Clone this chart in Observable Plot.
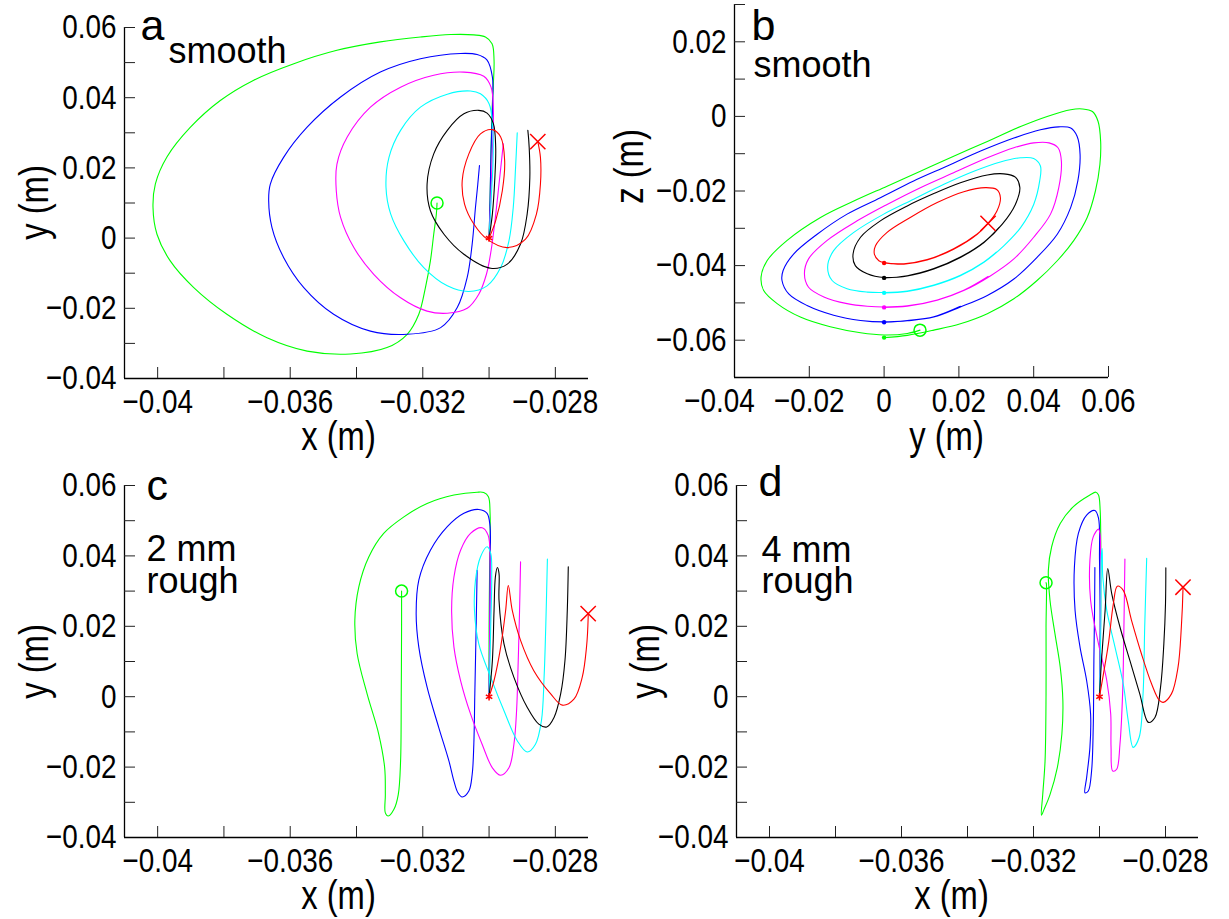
<!DOCTYPE html>
<html><head><meta charset="utf-8">
<script src="https://cdn.jsdelivr.net/npm/d3@7"></script>
<script src="https://cdn.jsdelivr.net/npm/@observablehq/plot@0.6"></script>
<style>
html,body{margin:0;padding:0;background:#fff;}
#fig{position:relative;width:1229px;height:919px;background:#fff;overflow:hidden;}
#fig svg{position:absolute;}
</style></head><body><div id="fig"></div>
<script>
// ---------- Panel a: smooth, x–y plane (m) ----------
const aGreen = [[-0.03000,0],[-0.02997,0.0107],[-0.02994,0.0250],[-0.02991,0.0364],[-0.02987,0.0440],[-0.02985,0.0507],[-0.02991,0.0554],[-0.03011,0.0573],[-0.03046,0.0579],[-0.03116,0.0580],[-0.03207,0.0573],[-0.03328,0.0559],[-0.03459,0.0535],[-0.03589,0.0497],[-0.03710,0.0450],[-0.03811,0.0392],[-0.03901,0.0316],[-0.03972,0.0231],[-0.04007,0.0154],[-0.04014,0.0088],[-0.04002,0.0011],[-0.03962,-0.0065],[-0.03891,-0.0141],[-0.03791,-0.0217],[-0.03670,-0.0284],[-0.03549,-0.0322],[-0.03418,-0.0330],[-0.03308,-0.0312],[-0.03247,-0.0274],[-0.03212,-0.0217],[-0.03192,-0.0141],[-0.03177,-0.0065],[-0.03167,0.0011],[-0.03159,0.0069],[-0.03157,0.0100]];
const aBlue = [[-0.03000,0],[-0.02997,0.0107],[-0.02994,0.0250],[-0.02989,0.0392],[-0.02990,0.0459],[-0.03006,0.0507],[-0.03036,0.0523],[-0.03086,0.0526],[-0.03207,0.0511],[-0.03328,0.0473],[-0.03448,0.0402],[-0.03549,0.0316],[-0.03620,0.0230],[-0.03660,0.0154],[-0.03665,0.0107],[-0.03655,0.0030],[-0.03620,-0.0055],[-0.03559,-0.0141],[-0.03469,-0.0217],[-0.03358,-0.0265],[-0.03247,-0.0274],[-0.03146,-0.0255],[-0.03096,-0.0198],[-0.03066,-0.0112],[-0.03051,-0.0017],[-0.03041,0.0088],[-0.03034,0.0154],[-0.03029,0.0207]];
const aMagenta = [[-0.03000,0],[-0.02995,0.0107],[-0.02990,0.0250],[-0.02987,0.0364],[-0.02994,0.0430],[-0.03016,0.0461],[-0.03076,0.0473],[-0.03167,0.0464],[-0.03267,0.0430],[-0.03358,0.0373],[-0.03428,0.0288],[-0.03459,0.0211],[-0.03461,0.0135],[-0.03448,0.0059],[-0.03408,-0.0027],[-0.03348,-0.0103],[-0.03267,-0.0170],[-0.03187,-0.0208],[-0.03126,-0.0214],[-0.03066,-0.0200],[-0.03031,-0.0160],[-0.03008,-0.0103],[-0.02994,-0.0036],[-0.02981,0.0059],[-0.02970,0.0154],[-0.02957,0.0269]];
const aCyan = [[-0.03000,0],[-0.02994,0.0107],[-0.02988,0.0221],[-0.02989,0.0316],[-0.03000,0.0383],[-0.03026,0.0411],[-0.03056,0.0419],[-0.03126,0.0410],[-0.03207,0.0373],[-0.03267,0.0307],[-0.03302,0.0230],[-0.03311,0.0145],[-0.03297,0.0069],[-0.03257,-0.0008],[-0.03197,-0.0084],[-0.03126,-0.0136],[-0.03061,-0.0152],[-0.03006,-0.0136],[-0.02965,-0.0084],[-0.02940,-0.0008],[-0.02927,0.0088],[-0.02920,0.0202],[-0.02915,0.0300]];
const aBlack = [[-0.03000,0],[-0.02990,0.0069],[-0.02983,0.0164],[-0.02980,0.0259],[-0.02987,0.0326],[-0.03006,0.0356],[-0.03031,0.0364],[-0.03076,0.0354],[-0.03126,0.0307],[-0.03167,0.0240],[-0.03187,0.0154],[-0.03177,0.0078],[-0.03136,0.0011],[-0.03076,-0.0046],[-0.02995,-0.0086],[-0.02945,-0.0074],[-0.02905,-0.0017],[-0.02885,0.0069],[-0.02877,0.0173],[-0.02879,0.0259],[-0.02883,0.0307]];
const aRed = [[-0.03000,0],[-0.02980,0.0050],[-0.02960,0.0135],[-0.02953,0.0221],[-0.02965,0.0288],[-0.02990,0.0309],[-0.03026,0.0297],[-0.03061,0.0240],[-0.03081,0.0164],[-0.03074,0.0097],[-0.03046,0.0040],[-0.03006,-0.0003],[-0.02945,-0.0027],[-0.02890,-0.0003],[-0.02857,0.0069],[-0.02845,0.0154],[-0.02845,0.0230],[-0.02853,0.0275]];
const aStart = [[-0.03000,0]];
const aCross = [[-0.02853,0.0275]];
const aCircle = [[-0.03157,0.0100]];

// ---------- Panel b: smooth, y–z plane (m) ----------
const bGreen = [[0,-0.0593],[0.0062,-0.0587],[0.0133,-0.0573],[0.0204,-0.0556],[0.0276,-0.0529],[0.0347,-0.0489],[0.0409,-0.0440],[0.0463,-0.0387],[0.0507,-0.0333],[0.0543,-0.0271],[0.0565,-0.0200],[0.0577,-0.0129],[0.0579,-0.0067],[0.0572,-0.0013],[0.0557,0.0013],[0.0530,0.0020],[0.0499,0.0018],[0.0436,0],[0.0365,-0.0027],[0.0276,-0.0067],[0.0186,-0.0107],[0.0097,-0.0147],[0.0008,-0.0187],[-0.0081,-0.0227],[-0.0170,-0.0271],[-0.0260,-0.0333],[-0.0313,-0.0387],[-0.0329,-0.0431],[-0.0322,-0.0467],[-0.0286,-0.0502],[-0.0224,-0.0538],[-0.0144,-0.0564],[-0.0063,-0.0580],[0,-0.0586],[0.0062,-0.0582],[0.0096,-0.0573]];
const bBlue = [[0,-0.0552],[0.0062,-0.0548],[0.0133,-0.0538],[0.0204,-0.0511],[0.0276,-0.0480],[0.0347,-0.0436],[0.0409,-0.0378],[0.0463,-0.0316],[0.0499,-0.0244],[0.0518,-0.0173],[0.0524,-0.0102],[0.0516,-0.0053],[0.0499,-0.0031],[0.0467,-0.0028],[0.0418,-0.0036],[0.0347,-0.0058],[0.0258,-0.0093],[0.0169,-0.0133],[0.0079,-0.0173],[-0.0010,-0.0218],[-0.0099,-0.0262],[-0.0179,-0.0316],[-0.0242,-0.0369],[-0.0270,-0.0413],[-0.0273,-0.0440],[-0.0255,-0.0476],[-0.0206,-0.0507],[-0.0135,-0.0533],[-0.0063,-0.0547],[0,-0.0551],[0.0062,-0.0547],[0.0133,-0.0537],[0.0204,-0.0509]];
const bMagenta = [[0,-0.0512],[0.0062,-0.0509],[0.0142,-0.0493],[0.0213,-0.0467],[0.0285,-0.0427],[0.0347,-0.0382],[0.0400,-0.0324],[0.0445,-0.0262],[0.0467,-0.0191],[0.0474,-0.0120],[0.0465,-0.0084],[0.0441,-0.0071],[0.0400,-0.0071],[0.0347,-0.0084],[0.0276,-0.0111],[0.0186,-0.0151],[0.0097,-0.0191],[0.0008,-0.0236],[-0.0072,-0.0280],[-0.0153,-0.0333],[-0.0202,-0.0382],[-0.0213,-0.0422],[-0.0202,-0.0458],[-0.0161,-0.0484],[-0.0099,-0.0502],[-0.0045,-0.0509],[0,-0.0511],[0.0062,-0.0508],[0.0142,-0.0492],[0.0213,-0.0466],[0.0278,-0.0429]];
const bCyan = [[0,-0.0473],[0.0062,-0.0469],[0.0133,-0.0453],[0.0204,-0.0427],[0.0267,-0.0391],[0.0320,-0.0347],[0.0365,-0.0298],[0.0400,-0.0236],[0.0416,-0.0173],[0.0418,-0.0133],[0.0400,-0.0113],[0.0365,-0.0111],[0.0311,-0.0122],[0.0240,-0.0147],[0.0160,-0.0182],[0.0079,-0.0222],[-0.0001,-0.0262],[-0.0081,-0.0311],[-0.0135,-0.0360],[-0.0151,-0.0404],[-0.0139,-0.0440],[-0.0099,-0.0462],[-0.0045,-0.0471],[0,-0.0472],[0.0062,-0.0468],[0.0133,-0.0452],[0.0204,-0.0426],[0.0267,-0.0390],[0.0300,-0.0364]];
const bBlack = [[0,-0.0433],[0.0062,-0.0428],[0.0133,-0.0409],[0.0204,-0.0378],[0.0267,-0.0338],[0.0316,-0.0289],[0.0351,-0.0236],[0.0363,-0.0191],[0.0351,-0.0163],[0.0320,-0.0154],[0.0276,-0.0157],[0.0204,-0.0178],[0.0133,-0.0207],[0.0062,-0.0240],[-0.0010,-0.0280],[-0.0063,-0.0324],[-0.0083,-0.0369],[-0.0077,-0.0400],[-0.0045,-0.0422],[0,-0.0432],[0.0062,-0.0427],[0.0133,-0.0408],[0.0204,-0.0377],[0.0267,-0.0337],[0.0307,-0.0298]];
const bRed = [[0,-0.0393],[0.0053,-0.0396],[0.0115,-0.0385],[0.0186,-0.0356],[0.0249,-0.0316],[0.0278,-0.0287],[0.0302,-0.0253],[0.0311,-0.0218],[0.0301,-0.0196],[0.0271,-0.0191],[0.0213,-0.0202],[0.0142,-0.0231],[0.0070,-0.0271],[0.0008,-0.0311],[-0.0023,-0.0347],[-0.0026,-0.0369],[-0.0014,-0.0387],[0,-0.0392],[0.0053,-0.0395],[0.0115,-0.0384],[0.0186,-0.0355],[0.0249,-0.0315],[0.0278,-0.0287]];
const bCross = [[0.0278,-0.0287]];
const bCircle = [[0.0096,-0.0573]];

// ---------- Panel c: 2 mm rough, x–y plane (m) ----------
const cGreen = [[-0.03000,0],[-0.03000,0.0198],[-0.02998,0.0388],[-0.02997,0.0521],[-0.03002,0.0568],[-0.03016,0.0580],[-0.03036,0.0581],[-0.03106,0.0573],[-0.03187,0.0549],[-0.03257,0.0511],[-0.03318,0.0464],[-0.03363,0.0397],[-0.03393,0.0312],[-0.03405,0.0217],[-0.03398,0.0122],[-0.03368,0.0008],[-0.03333,-0.0106],[-0.03315,-0.0202],[-0.03313,-0.0278],[-0.03313,-0.0330],[-0.03304,-0.0339],[-0.03287,-0.0320],[-0.03274,-0.0278],[-0.03267,-0.0183],[-0.03265,0.0008],[-0.03264,0.0198],[-0.03264,0.0300]];
const cBlue = [[-0.03000,0],[-0.02998,0.0198],[-0.02997,0.0388],[-0.02997,0.0483],[-0.03006,0.0521],[-0.03031,0.0532],[-0.03076,0.0521],[-0.03126,0.0483],[-0.03177,0.0416],[-0.03212,0.0331],[-0.03220,0.0236],[-0.03212,0.0141],[-0.03187,0.0027],[-0.03152,-0.0087],[-0.03121,-0.0183],[-0.03106,-0.0240],[-0.03094,-0.0273],[-0.03081,-0.0285],[-0.03061,-0.0268],[-0.03051,-0.0221],[-0.03046,-0.0135],[-0.03043,0.0008],[-0.03039,0.0198],[-0.03036,0.0359]];
const cMagenta = [[-0.03000,0],[-0.02998,0.0198],[-0.02997,0.0388],[-0.03003,0.0459],[-0.03021,0.0480],[-0.03056,0.0464],[-0.03086,0.0416],[-0.03106,0.0340],[-0.03113,0.0245],[-0.03106,0.0141],[-0.03086,0.0046],[-0.03056,-0.0049],[-0.03021,-0.0135],[-0.02990,-0.0202],[-0.02965,-0.0223],[-0.02940,-0.0202],[-0.02925,-0.0135],[-0.02917,-0.0040],[-0.02912,0.0103],[-0.02908,0.0245],[-0.02905,0.0383]];
const cCyan = [[-0.03000,0],[-0.02995,0.0198],[-0.02992,0.0340],[-0.02995,0.0407],[-0.03006,0.0426],[-0.03026,0.0397],[-0.03041,0.0331],[-0.03044,0.0245],[-0.03031,0.0150],[-0.02995,0.0055],[-0.02955,-0.0040],[-0.02915,-0.0125],[-0.02885,-0.0157],[-0.02860,-0.0135],[-0.02842,-0.0068],[-0.02834,0.0055],[-0.02829,0.0198],[-0.02824,0.0391]];
const cBlack = [[-0.03000,0],[-0.02990,0.0103],[-0.02985,0.0245],[-0.02981,0.0340],[-0.02975,0.0367],[-0.02970,0.0350],[-0.02970,0.0274],[-0.02955,0.0150],[-0.02925,0.0055],[-0.02885,-0.0030],[-0.02850,-0.0078],[-0.02826,-0.0086],[-0.02804,-0.0059],[-0.02784,0.0008],[-0.02771,0.0103],[-0.02764,0.0245],[-0.02761,0.0369]];
const cRed = [[-0.03000,0],[-0.02985,0.0046],[-0.02965,0.0141],[-0.02950,0.0245],[-0.02942,0.0316],[-0.02930,0.0245],[-0.02905,0.0160],[-0.02865,0.0074],[-0.02814,0.0008],[-0.02779,-0.0024],[-0.02744,-0.0007],[-0.02719,0.0055],[-0.02706,0.0141],[-0.02701,0.0226],[-0.02701,0.0236]];
const cStart = [[-0.03000,0]];
const cCross = [[-0.02701,0.0236]];
const cCircle = [[-0.03264,0.0300]];

// ---------- Panel d: 4 mm rough, x–y plane (m) ----------
const dGreen = [[-0.03000,0],[-0.02997,0.0198],[-0.02996,0.0388],[-0.02998,0.0530],[-0.03003,0.0573],[-0.03011,0.0581],[-0.03029,0.0573],[-0.03079,0.0540],[-0.03119,0.0492],[-0.03145,0.0426],[-0.03155,0.0359],[-0.03150,0.0274],[-0.03135,0.0179],[-0.03119,0.0084],[-0.03111,-0.0011],[-0.03114,-0.0106],[-0.03128,-0.0202],[-0.03150,-0.0278],[-0.03168,-0.0320],[-0.03176,-0.0337],[-0.03172,-0.0278],[-0.03165,-0.0183],[-0.03162,0.0008],[-0.03162,0.0198],[-0.03161,0.0321],[-0.03162,0.0324]];
const dBlue = [[-0.03000,0],[-0.02998,0.0198],[-0.03000,0.0388],[-0.03003,0.0507],[-0.03014,0.0529],[-0.03039,0.0516],[-0.03064,0.0464],[-0.03076,0.0369],[-0.03074,0.0245],[-0.03059,0.0141],[-0.03039,0.0046],[-0.03027,-0.0049],[-0.03029,-0.0144],[-0.03039,-0.0230],[-0.03044,-0.0273],[-0.03034,-0.0268],[-0.03024,-0.0211],[-0.03019,-0.0087],[-0.03017,0.0103],[-0.03015,0.0245],[-0.03014,0.0367]];
const dMagenta = [[-0.03000,0],[-0.02997,0.0198],[-0.02997,0.0388],[-0.02998,0.0459],[-0.03003,0.0476],[-0.03019,0.0454],[-0.03029,0.0388],[-0.03027,0.0274],[-0.03003,0.0150],[-0.02978,0.0046],[-0.02966,-0.0049],[-0.02965,-0.0144],[-0.02960,-0.0211],[-0.02948,-0.0206],[-0.02938,-0.0135],[-0.02930,0.0008],[-0.02926,0.0198],[-0.02923,0.0391]];
const dCyan = [[-0.03000,0],[-0.02996,0.0198],[-0.02995,0.0388],[-0.02992,0.0421],[-0.02990,0.0340],[-0.02978,0.0245],[-0.02953,0.0141],[-0.02928,0.0036],[-0.02913,-0.0068],[-0.02898,-0.0144],[-0.02880,-0.0116],[-0.02868,0.0008],[-0.02863,0.0198],[-0.02857,0.0393]];
const dBlack = [[-0.03000,0],[-0.02994,0.0103],[-0.02983,0.0245],[-0.02975,0.0364],[-0.02963,0.0293],[-0.02938,0.0198],[-0.02908,0.0103],[-0.02878,0.0008],[-0.02852,-0.0073],[-0.02832,-0.0059],[-0.02815,0.0027],[-0.02805,0.0150],[-0.02800,0.0264],[-0.02799,0.0366]];
const dRed = [[-0.03000,0],[-0.02988,0.0065],[-0.02973,0.0150],[-0.02958,0.0264],[-0.02946,0.0314],[-0.02928,0.0302],[-0.02903,0.0217],[-0.02873,0.0122],[-0.02842,0.0036],[-0.02819,-0.0010],[-0.02807,-0.0016],[-0.02782,0.0008],[-0.02762,0.0084],[-0.02752,0.0198],[-0.02747,0.0307],[-0.02747,0.0311]];
const dStart = [[-0.03000,0]];
const dCross = [[-0.02747,0.0311]];
const dCircle = [[-0.03162,0.0324]];

// ---------- Axis ticks and labels ----------
const xyXTicks = [-0.040,-0.038,-0.036,-0.034,-0.032,-0.030,-0.028];
const xyXLabels = [-0.04,-0.036,-0.032,-0.028];
const xyYTicks = [0.06,0.05,0.04,0.03,0.02,0.01,0,-0.01,-0.02,-0.03];
const xyYLabels = [0.06,0.04,0.02,0,-0.02,-0.04];
const yzXTicks = [-0.02,0,0.02,0.04,0.06];
const yzXLabels = [-0.04,-0.02,0,0.02,0.04,0.06];
const yzYTicks = [0.03,0.02,0.01,0,-0.01,-0.02,-0.03,-0.04,-0.05,-0.06];
const yzYLabels = [0.02,0,-0.02,-0.04,-0.06];

const colors = {green:"#00ff00", blue:"#0000ff", magenta:"#ff00ff", cyan:"#00ffff", black:"#000000", red:"#ff0000"};
// axis text is drawn condensed (horizontally scaled) to match the narrow face of the original
const NARROW = "'Liberation Sans',Helvetica,sans-serif";
const SANS = "'Liberation Sans',Arial,sans-serif";
const fmt = d => d === 0 ? "0" : (d < 0 ? "\u2212" : "") + String(+Math.abs(d).toFixed(3));

function condense(svg, k) {
  const done = new Set();
  svg.querySelectorAll("[font-family]").forEach(el => {
    if (!el.getAttribute("font-family").includes("Helvetica")) return;
    const texts = el.tagName.toLowerCase() === "text" ? [el] : Array.from(el.querySelectorAll("text"));
    texts.forEach(t => {
      if (done.has(t)) return;
      done.add(t);
      const tr = t.getAttribute("transform") || "";
      t.setAttribute("transform", `${tr} scale(${k},1)`.trim());
    });
  });
}

function panel(o) {
  const W = o.width - o.ml - o.mr, H = o.height - o.mt - o.mb;
  const at = (sx, sy) => ({frameAnchor: "top-left", dx: sx - o.ml, dy: sy - o.mt});
  const marks = [];
  o.series.forEach(([pts, c]) => marks.push(Plot.line(pts, {x: d => d[0], y: d => d[1], stroke: colors[c], strokeWidth: 1.1, curve: "catmull-rom"})));
  if (o.dots) o.dots.forEach(([pts, c]) => marks.push(Plot.dot([pts[0]], {x: d => d[0], y: d => d[1], r: 2.2, fill: colors[c]})));
  if (o.start) marks.push(Plot.dot(o.start, {x: d => d[0], y: d => d[1], symbol: "asterisk", r: 3.5, stroke: colors.red, strokeWidth: 1.5}));
  marks.push(Plot.dot(o.cross, {x: d => d[0], y: d => d[1], symbol: "times", r: 7, stroke: colors.red, strokeWidth: 1.5}));
  marks.push(Plot.dot(o.circle, {x: d => d[0], y: d => d[1], r: 6, stroke: colors.green, strokeWidth: 1.5, fill: "none"}));
  // axes
  marks.push(Plot.ruleY([o.yDomain[0]], {stroke: "#000", strokeWidth: 1.3}));
  marks.push(Plot.ruleX([o.xDomain[0]], {stroke: "#000", strokeWidth: 1.3}));
  marks.push(Plot.tickX(o.xTicks, {x: d => d, insetTop: H - 11, stroke: "#222"}));
  marks.push(Plot.tickY(o.yTicks, {y: d => d, insetRight: W - 11, stroke: "#222"}));
  const xl = {frameAnchor: "bottom", dy: 34, lineAnchor: "bottom", text: fmt, fontSize: 34, fontFamily: NARROW, fill: "#000"};
  const shift = o.firstLabelDx || 0;
  marks.push(Plot.text(o.xLabels.slice(0, 1), {...xl, x: d => d, dx: shift}));
  marks.push(Plot.text(o.xLabels.slice(1), {...xl, x: d => d}));
  marks.push(Plot.text(o.yLabels, {y: d => d, frameAnchor: "left", dx: -8, textAnchor: "end", lineAnchor: "middle", text: fmt, fontSize: 34, fontFamily: NARROW, fill: "#000"}));
  // titles
  marks.push(Plot.text([o.xTitle], {...at(o.xTitlePos[0], o.xTitlePos[1]), text: d => d, textAnchor: "middle", lineAnchor: "bottom", fontSize: 40, fontFamily: NARROW, fill: "#000"}));
  marks.push(Plot.text([o.yTitle], {...at(o.yTitlePos[0], o.yTitlePos[1]), text: d => d, textAnchor: "middle", lineAnchor: "bottom", rotate: -90, fontSize: 40, fontFamily: NARROW, fill: "#000"}));
  marks.push(Plot.text([o.letter], {...at(o.letterPos[0], o.letterPos[1]), text: d => d, textAnchor: "start", lineAnchor: "bottom", fontSize: 43, fontFamily: SANS, fill: "#000"}));
  o.notes.forEach(([t, sx, sy]) => marks.push(Plot.text([t], {...at(sx, sy), text: d => d, textAnchor: "start", lineAnchor: "bottom", fontSize: 36, fontFamily: SANS, fill: "#000"})));
  const svg = Plot.plot({
    width: o.width, height: o.height,
    marginLeft: o.ml, marginRight: o.mr, marginTop: o.mt, marginBottom: o.mb,
    x: {domain: o.xDomain, axis: null},
    y: {domain: o.yDomain, axis: null},
    style: {background: "transparent", overflow: "visible"},
    marks
  });
  condense(svg, 0.82);
  svg.style.left = o.left + "px";
  svg.style.top = o.top + "px";
  document.getElementById("fig").appendChild(svg);
}

const xyCommon = {xDomain: [-0.041, -0.027], yDomain: [-0.04, 0.06], xTicks: xyXTicks, xLabels: xyXLabels, yTicks: xyYTicks, yLabels: xyYLabels, xTitle: "x (m)", yTitle: "y (m)"};

panel({...xyCommon, left: 0, top: 0, width: 615, height: 460, ml: 124, mr: 27, mt: 27, mb: 82,
  series: [[aGreen,"green"],[aBlue,"blue"],[aMagenta,"magenta"],[aCyan,"cyan"],[aBlack,"black"],[aRed,"red"]],
  start: aStart, cross: aCross, circle: aCircle,
  xTitlePos: [338, 449], yTitlePos: [47, 202], letter: "a", letterPos: [140, 39], notes: [["smooth", 168, 62]]});

panel({left: 615, top: 0, width: 614, height: 460, ml: 119, mr: 121, mt: 4, mb: 83,
  xDomain: [-0.04, 0.06], yDomain: [-0.07, 0.03], xTicks: yzXTicks, xLabels: yzXLabels, yTicks: yzYTicks, yLabels: yzYLabels,
  firstLabelDx: -15,
  series: [[bGreen,"green"],[bBlue,"blue"],[bMagenta,"magenta"],[bCyan,"cyan"],[bBlack,"black"],[bRed,"red"]],
  dots: [[bGreen,"green"],[bBlue,"blue"],[bMagenta,"magenta"],[bCyan,"cyan"],[bBlack,"black"],[bRed,"red"]],
  cross: bCross, circle: bCircle,
  xTitle: "y (m)", yTitle: "z (m)", xTitlePos: [331, 449], yTitlePos: [27, 166], letter: "b", letterPos: [136, 39], notes: [["smooth", 138, 76]]});

panel({...xyCommon, left: 0, top: 460, width: 615, height: 459, ml: 124, mr: 27, mt: 25, mb: 82,
  series: [[cGreen,"green"],[cBlue,"blue"],[cMagenta,"magenta"],[cCyan,"cyan"],[cBlack,"black"],[cRed,"red"]],
  start: cStart, cross: cCross, circle: cCircle,
  xTitlePos: [338, 448], yTitlePos: [47, 201], letter: "c", letterPos: [146, 39], notes: [["2 mm", 146, 100], ["rough", 146, 132]]});

panel({...xyCommon, left: 615, top: 460, width: 614, height: 459, ml: 121, mr: 31, mt: 25, mb: 82,
  series: [[dGreen,"green"],[dBlue,"blue"],[dMagenta,"magenta"],[dCyan,"cyan"],[dBlack,"black"],[dRed,"red"]],
  start: dStart, cross: dCross, circle: dCircle,
  xTitlePos: [336, 448], yTitlePos: [43, 201], letter: "d", letterPos: [143, 35], notes: [["4 mm", 146, 101], ["rough", 146, 132]]});
</script>
</body></html>
